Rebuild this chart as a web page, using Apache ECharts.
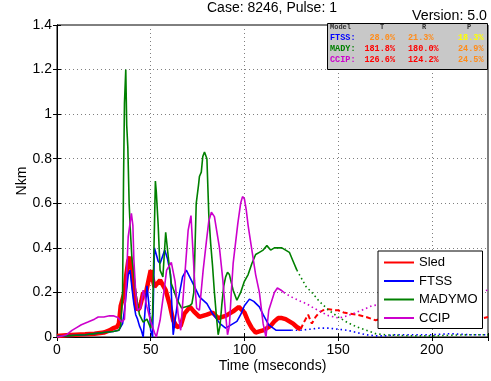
<!DOCTYPE html>
<html>
<head>
<meta charset="utf-8">
<script src="https://cdn.jsdelivr.net/npm/echarts@6/dist/echarts.min.js"></script>
<style>html,body{margin:0;padding:0;background:#fff}#c{width:491px;height:381px}</style>
</head>
<body>
<div id="c"></div>
<script>
// ---- data ----
var seriesNames = ['Sled', 'FTSS', 'MADYMO', 'CCIP'];
var xTicks = [0, 50, 100, 150, 200];
var yTicks = [0, 0.2, 0.4, 0.6, 0.8, 1, 1.2, 1.4];

var sledT = [0,5,10,15,20,25,28,30,32,33,34,35,36,37,38,39,40,41,42,43,44,45,46,47,48,49,50,52,55,58,60,62,64,66,68,71,73,76,80,83,86,90,94,97,100,102,104,106,108,110,112,114,116,118,120,122,124,126,128,130];
var sledV = [0.005,0.008,0.01,0.012,0.015,0.02,0.03,0.04,0.045,0.06,0.14,0.17,0.2,0.28,0.34,0.36,0.3,0.22,0.15,0.12,0.13,0.16,0.2,0.18,0.22,0.26,0.3,0.225,0.255,0.21,0.15,0.075,0.045,0.05,0.105,0.135,0.115,0.09,0.1,0.11,0.085,0.095,0.115,0.135,0.11,0.07,0.04,0.02,0.025,0.03,0.04,0.05,0.07,0.085,0.085,0.08,0.07,0.06,0.045,0.035];
var sledTailT = [130,132,134,136,138,140,142,145,148,150,153,156,160,165,170,175,180,185,190,195,200,205,210,215,220,225,230];
var sledTailV = [0.035,0.07,0.1,0.06,0.09,0.11,0.12,0.125,0.12,0.12,0.11,0.105,0.1,0.09,0.075,0.085,0.09,0.08,0.07,0.075,0.08,0.07,0.075,0.08,0.085,0.08,0.09];

var ftssT = [0,5,10,15,20,25,30,33,35,36,37,38,39,40,41,42,43,44,45,46,47,48,49,50,51,52,54,55,57.5,59,60.6,61.5,62,64,67,69,72,76,80,83,87,90,92,94,96,98,100,102.7,105,108,110,113,117,121,125];
var ftssV = [0.003,0.005,0.008,0.01,0.015,0.02,0.025,0.03,0.06,0.12,0.2,0.28,0.3,0.22,0.15,0.1,0.08,0.05,0.03,0.0,0.12,0.23,0.15,0.03,0.0,0.4,0.34,0.33,0.39,0.35,0.28,0.1,0.01,0.135,0.27,0.3,0.25,0.18,0.15,0.105,0.06,0.04,0.05,0.06,0.07,0.1,0.14,0.17,0.16,0.135,0.1,0.054,0.03,0.03,0.03];
var ftssTailT = [125,130,135,140,145,150,155,160,165,170,175,180,190,200,210,220,230];
var ftssTailV = [0.03,0.03,0.035,0.04,0.04,0.035,0.03,0.02,0.01,0.005,0.005,0.01,0.01,0.01,0.015,0.01,0.01];

var madyT = [0,5,10,15,20,25,30,33,34,35,35.5,36,36.7,37.2,37.8,38.5,39,40,41,42,43,44,46,48,50,51,52,52.5,53,54,55,56.5,58,59.5,61,64,66.5,70.7,72,73,74.3,75.5,76,77,77.8,78.7,80,81,82,83,84,85,86,87,88,89,90,91,92,94,96,98,100,102,104,106,108,110,112,114,116,118,120,122,124,126,128];
var madyV = [0.003,0.005,0.008,0.01,0.015,0.02,0.025,0.03,0.05,0.2,0.7,1.05,1.2,0.95,0.85,0.6,0.5,0.35,0.28,0.2,0.15,0.1,0.067,0.08,0.04,0.1,0.5,0.7,0.65,0.5,0.3,0.27,0.47,0.35,0.24,0.17,0.13,0.14,0.15,0.2,0.6,0.68,0.72,0.74,0.81,0.83,0.8,0.55,0.42,0.32,0.2,0.1,0.01,0.05,0.15,0.23,0.27,0.29,0.28,0.21,0.165,0.2,0.25,0.28,0.33,0.37,0.38,0.39,0.41,0.39,0.4,0.4,0.4,0.39,0.38,0.34,0.3];
var madyTailT = [128,130,133,136,140,145,150,155,160,165,170,175,180,190,200,210,220,230];
var madyTailV = [0.3,0.27,0.225,0.2,0.16,0.12,0.09,0.065,0.045,0.03,0.015,0.01,0.008,0.005,0.005,0.008,0.01,0.01];

var ccipT = [0,3,5,8,10,13,16.5,20,22,25,28,30,32.5,34.5,35.5,36,37,38,39.7,40.5,41,42,43,44.6,46,48,50,52,53,55,57,58.5,61,63,64.6,66,68,70,71.5,73.4,74.5,76,77,78,79.8,81,82.4,84,86.7,88.5,90,91,92,93,94,96.5,98,99,100,101,102,104,106,108,110,111.5,113,116,117.6,119.6,121];
var ccipV = [0,0.005,0.01,0.03,0.04,0.055,0.067,0.08,0.09,0.09,0.095,0.095,0.087,0.067,0.06,0.08,0.25,0.45,0.555,0.5,0.35,0.2,0.12,0.13,0.21,0.135,0.07,0.02,0.0,0.075,0.2,0.3,0.335,0.25,0.105,0.03,0.255,0.48,0.545,0.255,0.13,0.12,0.21,0.3,0.435,0.52,0.56,0.54,0.4,0.255,0.1,0.01,0.05,0.2,0.33,0.51,0.6,0.63,0.62,0.57,0.5,0.39,0.28,0.2,0.06,0.0,0.12,0.2,0.22,0.21,0.2];
var ccipTailT = [121,125,130,133,137,141.5,145,150.5,155,159.6,164,168,175,180,190,200,210,220,230];
var ccipTailV = [0.2,0.18,0.16,0.15,0.13,0.11,0.095,0.085,0.095,0.11,0.125,0.14,0.15,0.16,0.17,0.18,0.19,0.2,0.21];

var tableHeader = ['Model', 'T', 'R', 'P'];
var tableRows = ['FTSS:', 'MADY:', 'CCIP:'];
var tableValues = [['28.0%', '21.3%', '18.3%'], ['181.8%', '180.0%', '24.9%'], ['126.6%', '124.2%', '24.5%']];

// ---- styles ----
var colors = ['#ff0000', '#0000ff', '#008000', '#cc00cc'];
var widths = [4.5, 1.6, 1.6, 1.6];
var tailTypes = [[5, 3], [1.5, 3], [1.5, 3], [1.5, 3]];
var cellColors = [['#ff8c1a', '#ff8c1a', '#ffff00'], ['#ff0000', '#ff0000', '#ff8c1a'], ['#ff0000', '#ff0000', '#ff8c1a']];

function pairs(t, v) { return t.map(function (x, i) { return [x, v[i]]; }); }

var solid = [pairs(sledT, sledV), pairs(ftssT, ftssV), pairs(madyT, madyV), pairs(ccipT, ccipV)];
var tails = [pairs(sledTailT, sledTailV), pairs(ftssTailT, ftssTailV), pairs(madyTailT, madyTailV), pairs(ccipTailT, ccipTailV)];

var series = [];
[0, 1, 2, 3].forEach(function (i) {
  series.push({
    name: seriesNames[i] + ' tail', type: 'line', data: tails[i], symbol: 'none',
    lineStyle: { color: colors[i], width: i === 0 ? 2 : 1.6, type: tailTypes[i] },
    itemStyle: { color: colors[i] }, animation: false, z: 2
  });
});
[0, 1, 2, 3].forEach(function (i) {
  series.push({
    name: seriesNames[i], type: 'line', data: solid[i], symbol: 'none',
    lineStyle: { color: colors[i], width: widths[i] },
    itemStyle: { color: colors[i] }, animation: false, z: i === 0 ? 3 : 4
  });
});

var FONT = 'Liberation Sans, Arial, sans-serif';
var MONO = 'Liberation Mono, DejaVu Sans Mono, monospace';

// table graphic
var tbl = [];
tbl.push({ type: 'rect', shape: { x: 327.5, y: 23.5, width: 160, height: 46 },
  style: { fill: '#c8c8c8', stroke: '#000', lineWidth: 1 }, z: 100 });
var hdrX = [330, 382, 424, 469];
tableHeader.forEach(function (h, k) {
  tbl.push({ type: 'text', x: hdrX[k], y: 27, z: 101,
    style: { text: h, font: 'bold 7px ' + MONO, fill: '#333', align: k === 0 ? 'left' : 'center', verticalAlign: 'middle' } });
});
var rowY = [37.5, 49, 60];
var valX = [395, 408, 458];
var valAlign = ['right', 'left', 'left'];
tableRows.forEach(function (r, j) {
  tbl.push({ type: 'text', x: 330, y: rowY[j], z: 101,
    style: { text: r, font: 'bold 8.5px ' + MONO, fill: colors[j + 1], align: 'left', verticalAlign: 'middle' } });
  tableValues[j].forEach(function (v, k) {
    tbl.push({ type: 'text', x: valX[k], y: rowY[j], z: 101,
      style: { text: v, font: 'bold 8.5px ' + MONO, fill: cellColors[j][k], align: valAlign[k], verticalAlign: 'middle' } });
  });
});

var axisCommon = {
  type: 'value', min: 0,
  axisLine: { show: true, lineStyle: { color: '#000', width: 1 } },
  axisTick: { show: true, inside: true, length: 4, lineStyle: { color: '#000' } }
};

var option = {
  animation: false,
  backgroundColor: '#fff',
  title: [
    { text: 'Case: 8246, Pulse: 1', left: 207, top: 1, padding: 0,
      textStyle: { fontFamily: FONT, fontSize: 14, fontWeight: 'normal', color: '#000' } },
    { text: 'Version: 5.0', right: 4, top: 9, padding: 0,
      textStyle: { fontFamily: FONT, fontSize: 14.2, fontWeight: 'normal', color: '#000' } }
  ],
  grid: { left: 57, right: 2, top: 25, bottom: 44, show: true, borderColor: '#000', borderWidth: 1, backgroundColor: '#fff' },
  legend: {
    data: seriesNames, orient: 'vertical', left: 378, top: 251,
    padding: [5, 5, 4, 5], itemGap: 5.5, itemWidth: 30, itemHeight: 14,
    backgroundColor: '#fff', borderColor: '#000', borderWidth: 1, borderRadius: 0,
    itemStyle: { opacity: 0 },
    textStyle: { fontFamily: FONT, fontSize: 13, color: '#000' },
    z: 50
  },
  xAxis: [
    Object.assign({}, axisCommon, {
      max: 230, interval: 50, position: 'bottom',
      name: 'Time (mseconds)', nameLocation: 'middle', nameGap: 22, nameMoveOverlap: false,
      nameTextStyle: { fontFamily: FONT, fontSize: 14, color: '#000' },
      axisLabel: { fontFamily: FONT, fontSize: 14, color: '#000', margin: 6,
        formatter: function (v) { return xTicks.indexOf(v) >= 0 ? String(v) : ''; } },
      splitLine: { show: true, lineStyle: { color: '#7f7f7f', type: [1, 3], width: 1 } }
    }),
    Object.assign({}, axisCommon, {
      max: 230, interval: 50, position: 'top', axisLabel: { show: false }, splitLine: { show: false }
    })
  ],
  yAxis: [
    Object.assign({}, axisCommon, {
      max: 1.4, interval: 0.2, position: 'left',
      name: 'Nkm', nameLocation: 'middle', nameGap: 28, nameMoveOverlap: false,
      nameTextStyle: { fontFamily: FONT, fontSize: 14, color: '#000' },
      axisLabel: { fontFamily: FONT, fontSize: 14, color: '#000', margin: 5,
        formatter: function (v) { var r = Math.round(v * 10) / 10; return yTicks.indexOf(r) >= 0 ? String(r) : ''; } },
      splitLine: { show: true, lineStyle: { color: '#7f7f7f', type: [1, 3], width: 1 } }
    }),
    Object.assign({}, axisCommon, {
      max: 1.4, interval: 0.2, position: 'right', axisLabel: { show: false }, splitLine: { show: false }
    })
  ],
  series: series,
  graphic: tbl
};

var chart = echarts.init(document.getElementById('c'), null, { renderer: 'canvas' });
chart.setOption(option);
</script>
</body>
</html>
